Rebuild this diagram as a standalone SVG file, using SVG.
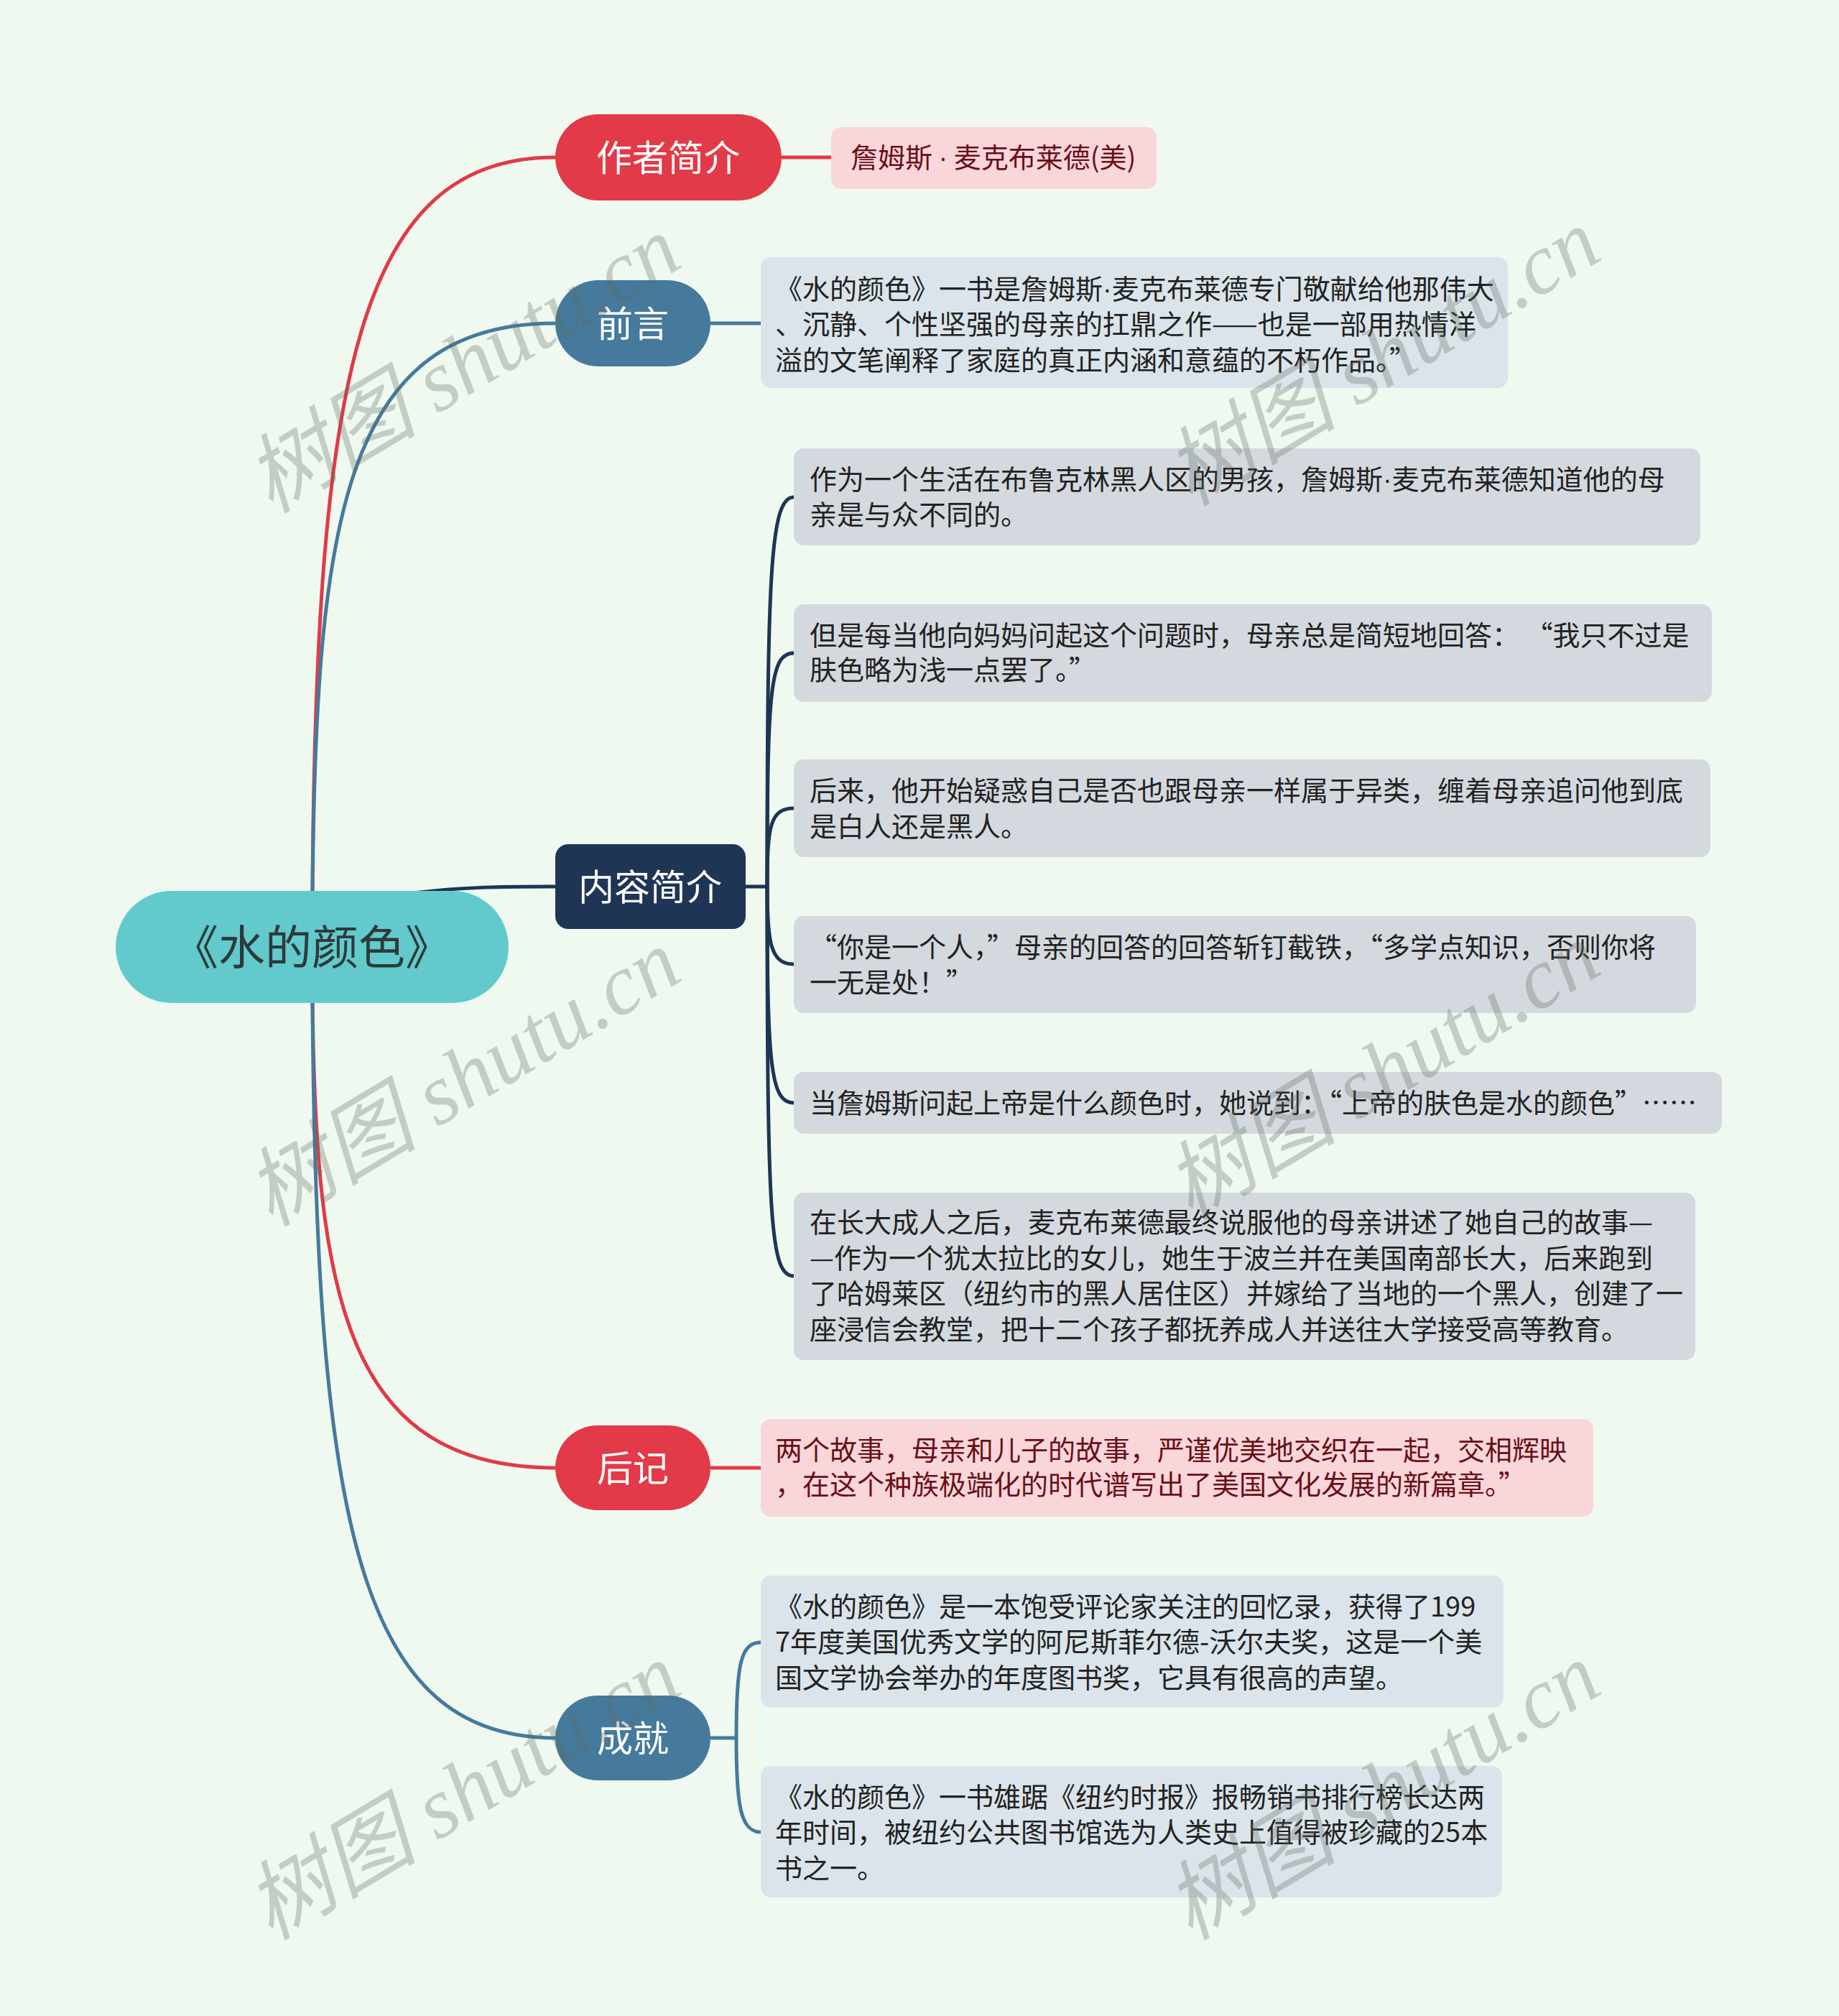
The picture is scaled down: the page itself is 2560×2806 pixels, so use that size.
<svg xmlns="http://www.w3.org/2000/svg" width="2560" height="2806" viewBox="0 0 2560 2806">
<style>
.cjk{font-family:"Noto Sans CJK SC","Noto Sans",sans-serif}
.dot{font-family:"Liberation Sans","Noto Sans",sans-serif}
.btxt{font-size:50px;fill:#ffffff;text-anchor:middle}
.t{font-size:38px;fill:#222222}
.tp{font-size:38px;fill:#6a0f17}
.wm{font-family:"Liberation Serif","Noto Sans CJK SC",serif;font-style:italic;font-size:120px;fill:#5f6b5f;opacity:0.3;text-anchor:middle}
.red{stroke:#e13a48;fill:none;stroke-width:5}
.blue{stroke:#457a9d;fill:none;stroke-width:5}
.navy{stroke:#1e3556;fill:none;stroke-width:5}
</style>
<rect x="0" y="0" width="2560" height="2806" fill="#f0f9ef"/>
<g id="connectors">
  <path class="red" d="M435 1240 C440 520 500 219 773 219"/>
  <path class="blue" d="M435 1240 C440 720 480 450 773 450"/>
  <path class="navy" d="M575 1243 C650 1234 700 1234 773 1234"/>
  <path class="red" d="M435 1396 C440 1800 480 2043 773 2043"/>
  <path class="blue" d="M435 1396 C440 2120 500 2419 773 2419"/>
  <path class="red" d="M1088 219 L1157 219"/>
  <path class="blue" d="M989 450 L1059 450"/>
  <path class="red" d="M989 2043 L1059 2043"/>
  <path class="navy" d="M1038 1234 L1068 1234"/>
  <path class="navy" stroke-width="4" d="M1068 1234 C1068 800 1072 692 1105 692"/>
  <path class="navy" stroke-width="4" d="M1068 1234 C1068 960 1072 909 1105 909"/>
  <path class="navy" stroke-width="4" d="M1068 1234 C1068 1150 1072 1125 1105 1125"/>
  <path class="navy" stroke-width="4" d="M1068 1234 C1068 1310 1072 1342 1105 1342"/>
  <path class="navy" stroke-width="4" d="M1068 1234 C1068 1480 1072 1535 1105 1535"/>
  <path class="navy" stroke-width="4" d="M1068 1234 C1068 1700 1072 1776 1105 1776"/>
  <path class="blue" d="M989 2419 L1025 2419"/>
  <path class="blue" stroke-width="4" d="M1025 2419 C1025 2320 1030 2286 1059 2286"/>
  <path class="blue" stroke-width="4" d="M1025 2419 C1025 2510 1030 2550 1059 2550"/>
</g>
<g id="root">
  <rect x="161" y="1240" width="547" height="156" rx="78" fill="#62cacd"/>
  <text class="cjk" x="434" y="1342" font-size="65" fill="#2e3a3a" text-anchor="middle">《水的颜色》</text>
</g>
<g id="n-author">
  <rect x="773" y="159" width="315" height="120" rx="60" fill="#e23a48"/>
  <text class="cjk btxt" x="930" y="238">作者简介</text>
</g>
<g id="n-author-1">
  <rect x="1157" y="177" width="453" height="86" rx="14" fill="#f9d6da"/>
  <text class="cjk tp" x="1184" y="233">詹姆斯 <tspan class="dot">·</tspan> 麦克布莱德(美)</text>
</g>
<g id="n-preface">
  <rect x="773" y="390" width="216" height="120" rx="60" fill="#457a9d"/>
  <text class="cjk btxt" x="881" y="469">前言</text>
</g>
<g id="n-preface-1">
  <rect x="1059" y="358" width="1040" height="182" rx="14" fill="#dbe4ea"/>
  <text class="cjk t" x="1079" y="416">《水的颜色》一书是詹姆斯<tspan class="dot">·</tspan>麦克布莱德专门敬献给他那伟大</text>
  <text class="cjk t" x="1079" y="465">、沉静、个性坚强的母亲的扛鼎之作——也是一部用热情洋</text>
  <text class="cjk t" x="1079" y="515">溢的文笔阐释了家庭的真正内涵和意蕴的不朽作品。”</text>
</g>
<g id="n-content">
  <rect x="773" y="1175" width="265" height="118" rx="18" fill="#1e3556"/>
  <text class="cjk btxt" x="905" y="1253">内容简介</text>
</g>
<g id="n-content-1">
  <rect x="1105" y="624" width="1262" height="135" rx="14" fill="#d4d9df"/>
  <text class="cjk t" x="1127" y="681">作为一个生活在布鲁克林黑人区的男孩，詹姆斯<tspan class="dot">·</tspan>麦克布莱德知道他的母</text>
  <text class="cjk t" x="1127" y="730">亲是与众不同的。</text>
</g>
<g id="n-content-2">
  <rect x="1105" y="841" width="1278" height="136" rx="14" fill="#d4d9df"/>
  <text class="cjk t" x="1127" y="898">但是每当他向妈妈问起这个问题时，母亲总是简短地回答： “我只不过是</text>
  <text class="cjk t" x="1127" y="946">肤色略为浅一点罢了。”</text>
</g>
<g id="n-content-3">
  <rect x="1105" y="1057" width="1276" height="136" rx="14" fill="#d4d9df"/>
  <text class="cjk t" x="1127" y="1114">后来，他开始疑惑自己是否也跟母亲一样属于异类，缠着母亲追问他到底</text>
  <text class="cjk t" x="1127" y="1164">是白人还是黑人。</text>
</g>
<g id="n-content-4">
  <rect x="1105" y="1275" width="1256" height="135" rx="14" fill="#d4d9df"/>
  <text class="cjk t" x="1127" y="1332">“你是一个人，”母亲的回答的回答斩钉截铁，“多学点知识，否则你将</text>
  <text class="cjk t" x="1127" y="1381">一无是处！”</text>
</g>
<g id="n-content-5">
  <rect x="1105" y="1492" width="1292" height="86" rx="14" fill="#d4d9df"/>
  <text class="cjk t" x="1127" y="1549">当詹姆斯问起上帝是什么颜色时，她说到：“上帝的肤色是水的颜色”……</text>
</g>
<g id="n-content-6">
  <rect x="1105" y="1660" width="1255" height="233" rx="14" fill="#d4d9df"/>
  <text class="cjk t" x="1127" y="1715">在长大成人之后，麦克布莱德最终说服他的母亲讲述了她自己的故事—</text>
  <text class="cjk t" x="1127" y="1765">—作为一个犹太拉比的女儿，她生于波兰并在美国南部长大，后来跑到</text>
  <text class="cjk t" x="1127" y="1814">了哈姆莱区（纽约市的黑人居住区）并嫁给了当地的一个黑人，创建了一</text>
  <text class="cjk t" x="1127" y="1864">座浸信会教堂，把十二个孩子都抚养成人并送往大学接受高等教育。</text>
</g>
<g id="n-afterword">
  <rect x="773" y="1984" width="216" height="118" rx="59" fill="#e23a48"/>
  <text class="cjk btxt" x="881" y="2062">后记</text>
</g>
<g id="n-afterword-1">
  <rect x="1059" y="1975" width="1159" height="136" rx="14" fill="#f9d6da"/>
  <text class="cjk tp" x="1079" y="2032">两个故事，母亲和儿子的故事，严谨优美地交织在一起，交相辉映</text>
  <text class="cjk tp" x="1079" y="2080">，在这个种族极端化的时代谱写出了美国文化发展的新篇章。”</text>
</g>
<g id="n-achieve">
  <rect x="773" y="2360" width="216" height="118" rx="59" fill="#457a9d"/>
  <text class="cjk btxt" x="881" y="2438">成就</text>
</g>
<g id="n-achieve-1">
  <rect x="1059" y="2193" width="1034" height="183" rx="14" fill="#dbe4ea"/>
  <text class="cjk t" x="1079" y="2250">《水的颜色》是一本饱受评论家关注的回忆录，获得了199</text>
  <text class="cjk t" x="1079" y="2299">7年度美国优秀文学的阿尼斯菲尔德-沃尔夫奖，这是一个美</text>
  <text class="cjk t" x="1079" y="2349">国文学协会举办的年度图书奖，它具有很高的声望。</text>
</g>
<g id="n-achieve-2">
  <rect x="1059" y="2458" width="1032" height="183" rx="14" fill="#dbe4ea"/>
  <text class="cjk t" x="1079" y="2515">《水的颜色》一书雄踞《纽约时报》报畅销书排行榜长达两</text>
  <text class="cjk t" x="1079" y="2564">年时间，被纽约公共图书馆选为人类史上值得被珍藏的25本</text>
  <text class="cjk t" x="1079" y="2614">书之一。</text>
</g>
<g id="watermarks">
  <text class="wm" x="645" y="548" transform="rotate(-31 645 508)">树图 shutu.cn</text>
  <text class="wm" x="1925" y="538" transform="rotate(-31 1925 498)">树图 shutu.cn</text>
  <text class="wm" x="645" y="1541" transform="rotate(-31 645 1501)">树图 shutu.cn</text>
  <text class="wm" x="1925" y="1532" transform="rotate(-31 1925 1492)">树图 shutu.cn</text>
  <text class="wm" x="645" y="2534" transform="rotate(-31 645 2494)">树图 shutu.cn</text>
  <text class="wm" x="1925" y="2534" transform="rotate(-31 1925 2494)">树图 shutu.cn</text>
</g>
</svg>
